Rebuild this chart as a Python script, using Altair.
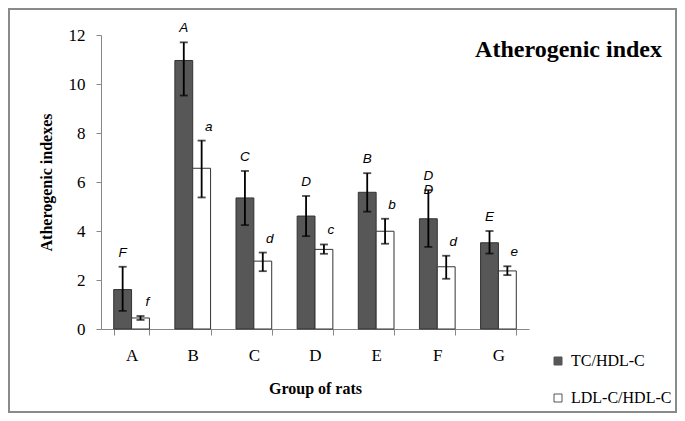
import altair as alt
import pandas as pd

# ---- data ----
groups = ["A", "B", "C", "D", "E", "F", "G"]
series = ["TC/HDL-C", "LDL-C/HDL-C"]
tc_mean = [1.61, 10.96, 5.35, 4.61, 5.58, 4.50, 3.52]
tc_low = [0.74, 9.53, 4.24, 3.79, 4.79, 3.35, 3.08]
tc_high = [2.54, 11.70, 6.45, 5.43, 6.36, 5.67, 4.00]
ldl_mean = [0.45, 6.56, 2.77, 3.25, 3.99, 2.54, 2.37]
ldl_low = [0.37, 5.37, 2.36, 3.07, 3.48, 2.05, 2.20]
ldl_high = [0.53, 7.69, 3.12, 3.45, 4.50, 2.99, 2.56]
tc_letters = ["F", "A", "C", "D", "B", "D", "E"]
ldl_letters = ["f", "a", "d", "c", "b", "d", "e"]
extra_group = ["F"]
extra_letter = ["D"]

rows = []
for i, g in enumerate(groups):
    rows.append({"group": g, "series": series[0], "mean": tc_mean[i],
                 "low": tc_low[i], "high": tc_high[i], "letter": tc_letters[i]})
    rows.append({"group": g, "series": series[1], "mean": ldl_mean[i],
                 "low": ldl_low[i], "high": ldl_high[i], "letter": ldl_letters[i]})
df = pd.DataFrame(rows)

extra = pd.DataFrame({"group": extra_group, "series": [series[0]] * len(extra_group),
                      "high": [tc_high[groups.index(g)] for g in extra_group],
                      "letter": extra_letter})

SERIF = "Liberation Serif"
GRAY = "#878787"

x_axis = alt.Axis(title="Group of rats", titleFont=SERIF, titleFontSize=16,
                  titleFontWeight="bold", titleColor="black", titleX=214, titleY=59,
                  titleBaseline="middle", titleAlign="center",
                  labelFont=SERIF, labelFontSize=17, labelColor="black", labelAngle=0,
                  labelPadding=12, tickBand="extent", tickSize=6, tickColor=GRAY,
                  domainColor=GRAY, grid=False)
x_enc = alt.X("group:N", scale=alt.Scale(domain=groups, paddingInner=0.416, paddingOuter=0.208),
              axis=x_axis)
xo_enc = alt.XOffset("series:N", scale=alt.Scale(domain=series, paddingInner=0, paddingOuter=0))

y_axis = alt.Axis(values=[0, 2, 4, 6, 8, 10, 12], title="Atherogenic indexes",
                  titleFont=SERIF, titleFontSize=16, titleFontWeight="bold", titleColor="black",
                  titleX=-55, titleY=147, titleAngle=270, titleBaseline="middle", titleAlign="center",
                  labelFont=SERIF, labelFontSize=17, labelColor="black", labelPadding=11,
                  tickSize=5, tickColor=GRAY, domainColor=GRAY, grid=False)
y_scale = alt.Scale(domain=[0, 12], nice=False, zero=True)


def y_enc(field):
    return alt.Y(f"{field}:Q", scale=y_scale, axis=y_axis)


base = alt.Chart(df)

bars = base.mark_bar(stroke="#333333", strokeWidth=1).encode(
    x=x_enc, xOffset=xo_enc, y=y_enc("mean"),
    color=alt.Color("series:N", scale=alt.Scale(domain=series, range=["#575757", "#ffffff"]),
                    legend=alt.Legend(title=None, orient="none", legendX=449, legendY=318,
                                      symbolType="square", symbolSize=64,
                                      symbolStrokeColor="#555555", symbolStrokeWidth=1,
                                      labelFont=SERIF, labelFontSize=16, labelColor="black",
                                      rowPadding=21, labelOffset=5, padding=0))
)

whisk = base.mark_rule(color="black", strokeWidth=1.8).encode(
    x=x_enc, xOffset=xo_enc, y=y_enc("low"), y2="high:Q")
cap_lo = base.mark_tick(color="black", thickness=1.8, size=8).encode(
    x=x_enc, xOffset=xo_enc, y=y_enc("low"))
cap_hi = base.mark_tick(color="black", thickness=1.8, size=8).encode(
    x=x_enc, xOffset=xo_enc, y=y_enc("high"))

txt_style = dict(font="Liberation Sans", fontStyle="italic", fontSize=13.5,
                 baseline="alphabetic", color="black")
up_letters = base.transform_filter(alt.datum.series == series[0]).mark_text(
    dy=-10, **txt_style).encode(x=x_enc, xOffset=xo_enc, y=y_enc("high"), text="letter:N")
low_letters = base.transform_filter(alt.datum.series == series[1]).mark_text(
    dy=-10, dx=7, **txt_style).encode(x=x_enc, xOffset=xo_enc, y=y_enc("high"), text="letter:N")
extra_letters = alt.Chart(extra).mark_text(dy=4, **txt_style).encode(
    x=x_enc, xOffset=xo_enc, y=y_enc("high"), text="letter:N")

one = pd.DataFrame({"k": [0]})
title = alt.Chart(one).mark_text(text="Atherogenic index", font=SERIF, fontWeight="bold",
                                 fontSize=24, align="right", baseline="alphabetic",
                                 color="black").encode(x=alt.value(561), y=alt.value(22))
frame = alt.Chart(one).mark_rect(fillOpacity=0, stroke="#8a8a8a", strokeWidth=2).encode(
    x=alt.value(-92), x2=alt.value(575), y=alt.value(-26), y2=alt.value(377))

chart = alt.layer(frame, bars, whisk, cap_lo, cap_hi, up_letters, low_letters,
                  extra_letters, title).properties(
    width=428, height=294,
    autosize=alt.AutoSizeParams(type="none"),
    padding={"left": 93, "top": 27, "right": 148, "bottom": 84},
).configure_view(strokeWidth=0).configure_axis(
    labelFont=SERIF, titleFont=SERIF
).configure_legend(labelFont=SERIF)

chart.save("out.html", embed_options={"renderer": "svg", "actions": False})
